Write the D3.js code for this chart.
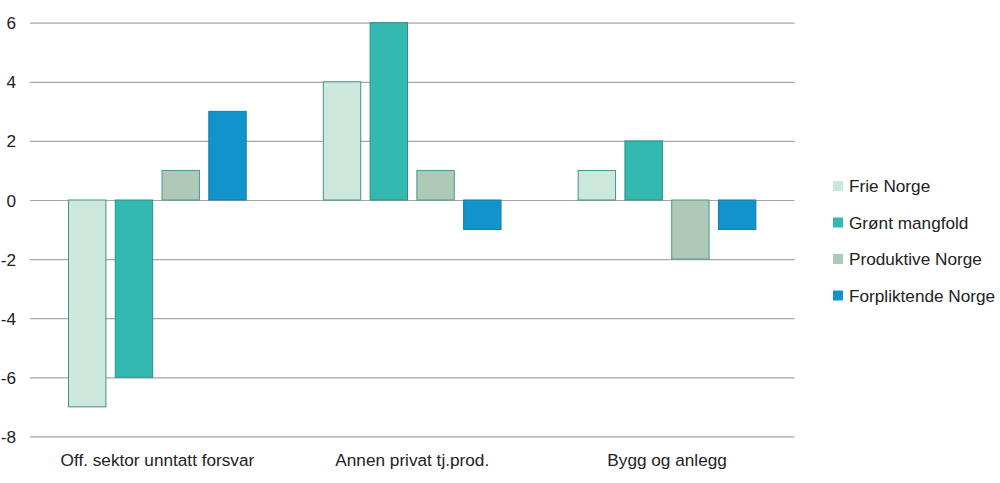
<!DOCTYPE html>
<html><head><meta charset="utf-8">
<script src="https://cdn.jsdelivr.net/npm/d3@7/dist/d3.min.js"></script>
<style>body{margin:0;background:#fff;}svg{display:block;font-family:"Liberation Sans",Arial,sans-serif;}</style>
</head><body><svg id="c" width="1000" height="483"></svg>
<script>
const categories = ["Off. sektor unntatt forsvar", "Annen privat tj.prod.", "Bygg og anlegg"];
const seriesNames = ["Frie Norge", "Grønt mangfold", "Produktive Norge", "Forpliktende Norge"];
const frieNorge = [-7, 4, 1];
const grontMangfold = [-6, 6, 2];
const produktiveNorge = [1, 1, -2];
const forpliktendeNorge = [3, -1, -1];
const yTicks = [-8, -6, -4, -2, 0, 2, 4, 6];
const colors = ["#cce8dd", "#33b9af", "#aec9b8", "#1393cc"];
const strokes = ["#3f918a", "#2a8f86", "#4d978c", "#167d9e"];

const values = [frieNorge, grontMangfold, produktiveNorge, forpliktendeNorge];
const svg = d3.select("#c");
const FS = 17.2;

const y = d3.scaleLinear().domain([-8, 6]).range([436.4, 22.7]);
const x0 = d3.scaleBand().domain(categories).range([30, 794.5]).padding(0);
const x1 = d3.scaleBand().domain(seriesNames).range([38.5, 216.2]).paddingInner(0.2).paddingOuter(0);

// gridlines
const yAxis = d3.axisLeft(y).tickValues(yTicks).tickSize(-(794.5 - 30)).tickPadding(15).tickFormat(d3.format("d"));
const gy = svg.append("g").attr("transform", "translate(30,0)").call(yAxis);
gy.select(".domain").remove();
gy.selectAll(".tick line").attr("stroke", "#a6a6a6").attr("stroke-width", 1.2);
gy.selectAll(".tick text").attr("fill", "#222").attr("font-size", FS).attr("x", -14).attr("dy", "0.35em")
  .attr("font-family", "Liberation Sans, Arial, sans-serif")
  .text(d => d < 0 ? "-" + Math.abs(d) : d);

// bars
categories.forEach((cat, ci) => {
  const g = svg.append("g").attr("transform", `translate(${x0(cat)},0)`);
  seriesNames.forEach((s, si) => {
    const v = values[si][ci];
    g.append("rect")
      .attr("x", x1(s))
      .attr("width", x1.bandwidth())
      .attr("y", y(Math.max(0, v)))
      .attr("height", Math.abs(y(v) - y(0)))
      .attr("fill", colors[si])
      .attr("stroke", strokes[si])
      .attr("stroke-width", 1);
  });
});

// x axis labels
const xAxis = d3.axisBottom(x0).tickSize(0).tickPadding(0);
const gx = svg.append("g").attr("transform", "translate(0,0)").call(xAxis);
gx.select(".domain").remove();
gx.selectAll(".tick text").attr("fill", "#222").attr("font-size", FS).attr("y", 466).attr("dy", 0)
  .attr("font-family", "Liberation Sans, Arial, sans-serif");

// legend
const leg = svg.append("g");
seriesNames.forEach((s, i) => {
  const cy = 186 + i * 36.5;
  leg.append("rect").attr("x", 833).attr("y", cy - 5).attr("width", 10).attr("height", 10).attr("fill", colors[i]);
  leg.append("text").attr("x", 849).attr("y", cy).attr("dy", "0.35em").attr("font-size", FS).attr("fill", "#222").text(s);
});
</script></body></html>
